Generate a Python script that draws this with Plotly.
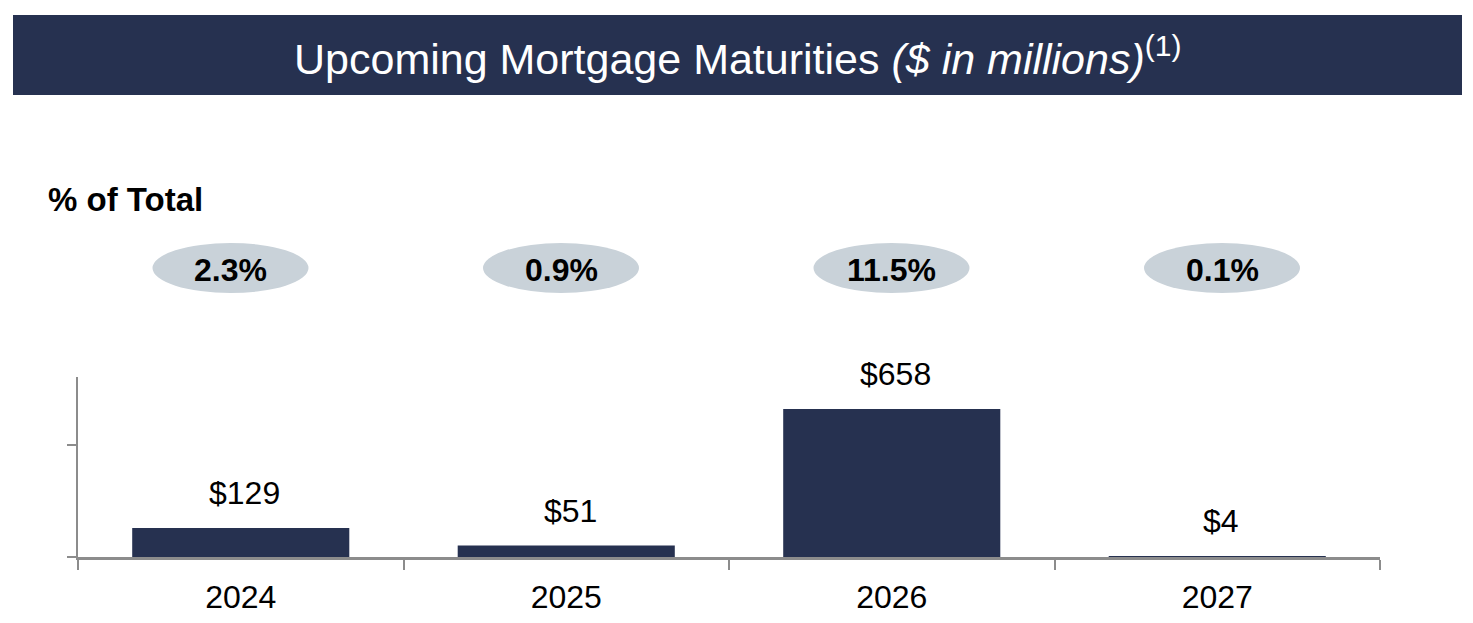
import plotly.graph_objects as go

years = ["2024", "2025", "2026", "2027"]
amounts = [129, 51, 658, 4]
amount_labels = ["$129", "$51", "$658", "$4"]
pct_labels = ["2.3%", "0.9%", "11.5%", "0.1%"]

NAVY = "#263150"
ELLIPSE = "#C9D2D9"
AXIS = "#8C8C8C"
FONT = "Liberation Sans, Arial, sans-serif"

W, H = 1473, 623
L, R, T, B = 78, 1380, 377, 557  # plot area in px


def px_x(px):
    return (px - L) / (R - L)


def px_y(py):
    return (B - py) / (B - T)


fig = go.Figure()
fig.add_trace(go.Bar(
    x=years, y=amounts, marker=dict(color=NAVY, line=dict(width=0)),
    width=0.667, hoverinfo="skip",
))

annotations = []
# data labels above bars (category index used as x position)
for i, (v, lab) in enumerate(zip(amounts, amount_labels)):
    annotations.append(dict(x=i, y=v, xref="x", yref="y", text=lab,
                            showarrow=False, yanchor="middle", yshift=35, xshift=4,
                            font=dict(family=FONT, size=32, color="black")))

shapes = []
# title band
shapes.append(dict(type="rect", xref="paper", yref="paper",
                   x0=px_x(13), x1=px_x(1462), y0=px_y(95), y1=px_y(15),
                   fillcolor=NAVY, line=dict(width=0), layer="below"))
annotations.append(dict(xref="paper", yref="paper", x=px_x(738), y=px_y(56),
                        text="Upcoming Mortgage Maturities <i>($ in millions)</i><sup>(1)</sup>",
                        showarrow=False, xanchor="center", yanchor="middle",
                        font=dict(family=FONT, size=43, color="white")))

annotations.append(dict(xref="paper", yref="paper", x=px_x(46), y=px_y(199),
                        text="<b>% of Total</b>", showarrow=False,
                        xanchor="left", yanchor="middle",
                        font=dict(family=FONT, size=33, color="black")))

# percent ellipses
spacing = 330.5
for i, lab in enumerate(pct_labels):
    cx = 230.5 + i * spacing
    shapes.append(dict(type="circle", xref="paper", yref="paper",
                       x0=px_x(cx - 78), x1=px_x(cx + 78),
                       y0=px_y(293), y1=px_y(243),
                       fillcolor=ELLIPSE, line=dict(width=0)))
    annotations.append(dict(xref="paper", yref="paper", x=px_x(cx), y=px_y(270),
                            text=f"<b>{lab}</b>", showarrow=False,
                            xanchor="center", yanchor="middle",
                            font=dict(family=FONT, size=32, color="black")))

fig.update_layout(
    width=W, height=H,
    margin=dict(l=L, r=W - R, t=T, b=H - B, pad=0, autoexpand=False),
    paper_bgcolor="white", plot_bgcolor="white",
    showlegend=False, bargap=0.333,
    shapes=shapes, annotations=annotations,
    xaxis=dict(type="category", range=[-0.5, 3.5], tickson="boundaries",
               automargin=False,
               showline=True, linecolor=AXIS, linewidth=3,
               ticks="outside", ticklen=10, tickwidth=2, tickcolor=AXIS,
               showgrid=False, zeroline=False,
               tickfont=dict(family=FONT, size=32, color="black"),
               ticklabelstandoff=10),
    yaxis=dict(range=[0, 800], tickvals=[0, 500], showticklabels=False,
               automargin=False,
               showline=True, linecolor=AXIS, linewidth=2,
               ticks="outside", ticklen=9, tickwidth=2, tickcolor=AXIS,
               showgrid=False, zeroline=False),
)

fig.write_html("out.html")
